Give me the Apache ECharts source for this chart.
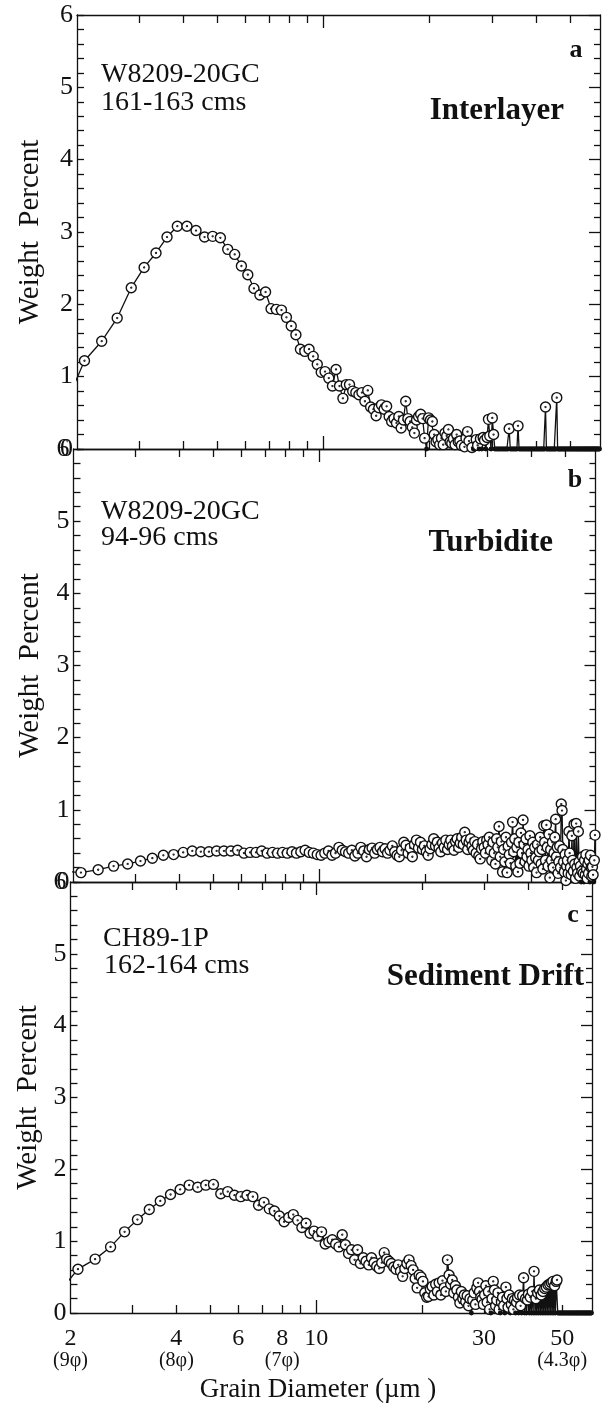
<!DOCTYPE html>
<html>
<head>
<meta charset="utf-8">
<script src="https://cdn.jsdelivr.net/npm/echarts@6/dist/echarts.min.js"></script>
<style>
  html, body { margin: 0; padding: 0; background: #fff; }
  #chart { width: 602px; height: 1403px; }
</style>
</head>
<body>
<div id="chart"></div>
<script>
// Size channels of the analyser: 0.25 µm wide, first channel centred at 1.85 µm
const channelStart = 1.85;
const channelStep = 0.25;

// Weight percent per channel
const interlayer = [
  0.60, 1.22, 1.49, 1.81, 2.23, 2.51, 2.71, 2.93, 3.08, 3.08,
  3.02, 2.93, 2.94, 2.92, 2.76, 2.69, 2.53, 2.41, 2.22, 2.13,
  2.17, 1.94, 1.93, 1.92, 1.82, 1.70, 1.58, 1.38, 1.35, 1.38,
  1.28, 1.17, 1.06, 1.07, 0.98, 0.87, 1.10, 0.87, 0.70, 0.89,
  0.89, 0.80, 0.78, 0.75, 0.78, 0.66, 0.81, 0.58, 0.55, 0.46,
  0.57, 0.61, 0.55, 0.59, 0.45, 0.38, 0.42, 0.36, 0.45, 0.29,
  0.40, 0.66, 0.42, 0.38, 0.30, 0.22, 0.40, 0.45, 0.48, 0.42,
  0.15, 0.00, 0.43, 0.40, 0.38, 0.20, 0.10, 0.13, 0.06, 0.15,
  0.06, 0.22, 0.18, 0.27, 0.10, 0.08, 0.14, 0.06, 0.20, 0.10,
  0.11, 0.05, 0.00, 0.03, 0.15, 0.24, 0.11, 0.00, 0.02, 0.00,
  0.00, 0.13, 0.05, 0.00, 0.14, 0.00, 0.16, 0.12, 0.00, 0.16,
  0.41, 0.18, 0.00, 0.43, 0.20, 0.00, 0.00, 0.00, 0.00, 0.00,
  0.00, 0.00, 0.00, 0.00, 0.00, 0.00, 0.00, 0.28, 0.00, 0.00,
  0.00, 0.00, 0.00, 0.00, 0.00, 0.32, 0.00, 0.00, 0.00, 0.00,
  0.00, 0.00, 0.00, 0.00, 0.00, 0.00, 0.00, 0.00, 0.00, 0.00,
  0.00, 0.00, 0.00, 0.00, 0.00, 0.00, 0.00, 0.00, 0.00, 0.00,
  0.00, 0.00, 0.00, 0.58, 0.00, 0.00, 0.00, 0.00, 0.00, 0.00,
  0.00, 0.00, 0.00, 0.00, 0.00, 0.00, 0.71, 0.00, 0.00, 0.00,
  0.00, 0.00, 0.00, 0.00, 0.00, 0.00, 0.00, 0.00, 0.00, 0.00,
  0.00, 0.00, 0.00, 0.00, 0.00, 0.00, 0.00, 0.00, 0.00, 0.00,
  0.00, 0.00, 0.00, 0.00, 0.00, 0.00, 0.00, 0.00, 0.00, 0.00,
  0.00, 0.00, 0.00, 0.00, 0.00, 0.00, 0.00, 0.00, 0.00, 0.00,
  0.00, 0.00, 0.00, 0.00, 0.00, 0.00, 0.00, 0.00, 0.00, 0.00,
  0.00, 0.00, 0.00, 0.00, 0.00, 0.00
];

const turbidite = [
  0.15, 0.13, 0.17, 0.22, 0.25, 0.29, 0.33, 0.37, 0.38, 0.41,
  0.43, 0.42, 0.42, 0.43, 0.43, 0.43, 0.44, 0.40, 0.41, 0.41,
  0.43, 0.40, 0.41, 0.40, 0.41, 0.40, 0.42, 0.40, 0.42, 0.44,
  0.41, 0.40, 0.38, 0.37, 0.40, 0.43, 0.37, 0.40, 0.48, 0.44,
  0.42, 0.40, 0.44, 0.36, 0.40, 0.48, 0.43, 0.35, 0.45, 0.47,
  0.40, 0.45, 0.48, 0.42, 0.46, 0.40, 0.44, 0.50, 0.42, 0.37,
  0.35, 0.44, 0.55, 0.51, 0.40, 0.47, 0.35, 0.52, 0.58, 0.47,
  0.55, 0.45, 0.50, 0.42, 0.37, 0.46, 0.52, 0.60, 0.50, 0.55,
  0.47, 0.42, 0.54, 0.48, 0.58, 0.45, 0.52, 0.58, 0.50, 0.44,
  0.56, 0.60, 0.48, 0.54, 0.62, 0.52, 0.69, 0.58, 0.45, 0.55,
  0.60, 0.50, 0.44, 0.56, 0.40, 0.52, 0.36, 0.32, 0.46, 0.56,
  0.48, 0.40, 0.58, 0.52, 0.62, 0.44, 0.30, 0.55, 0.40, 0.25,
  0.60, 0.48, 0.77, 0.35, 0.56, 0.14, 0.45, 0.28, 0.62, 0.13,
  0.50, 0.38, 0.26, 0.55, 0.83, 0.42, 0.60, 0.22, 0.48, 0.14,
  0.55, 0.26, 0.68, 0.40, 0.86, 0.52, 0.28, 0.60, 0.35, 0.45,
  0.22, 0.64, 0.40, 0.30, 0.55, 0.20, 0.48, 0.34, 0.13, 0.52,
  0.30, 0.42, 0.62, 0.25, 0.45, 0.18, 0.78, 0.55, 0.30, 0.79,
  0.48, 0.22, 0.66, 0.06, 0.45, 0.30, 0.55, 0.20, 0.40, 0.62,
  0.87, 0.35, 0.48, 0.12, 0.28, 0.50, 0.20, 1.08, 0.99, 0.45,
  0.28, 0.14, 0.38, 0.02, 0.22, 0.30, 0.12, 0.70, 0.40, 0.20,
  0.10, 0.64, 0.30, 0.15, 0.80, 0.25, 0.05, 0.81, 0.20, 0.12,
  0.70, 0.28, 0.08, 0.22, 0.00, 0.15, 0.35, 0.12, 0.00, 0.30,
  0.10, 0.38, 0.18, 0.05, 0.25, 0.12, 0.30, 0.00, 0.37, 0.20,
  0.08, 0.21, 0.10, 0.00, 0.30, 0.65
];

const sedimentDrift = [
  0.28, 0.61, 0.75, 0.92, 1.13, 1.30, 1.44, 1.56, 1.65, 1.72,
  1.78, 1.75, 1.78, 1.79, 1.66, 1.69, 1.64, 1.62, 1.64, 1.62,
  1.50, 1.54, 1.45, 1.42, 1.35, 1.27, 1.33, 1.37, 1.29, 1.19,
  1.25, 1.11, 1.14, 1.07, 1.13, 0.96, 0.99, 1.02, 0.96, 0.92,
  1.09, 0.95, 0.83, 0.88, 0.74, 0.88, 0.69, 0.77, 0.72, 0.67,
  0.77, 0.70, 0.65, 0.62, 0.70, 0.84, 0.75, 0.72, 0.69, 0.64,
  0.61, 0.67, 0.58, 0.51, 0.62, 0.69, 0.74, 0.66, 0.60, 0.48,
  0.35, 0.53, 0.50, 0.44, 0.28, 0.22, 0.23, 0.33, 0.37, 0.25,
  0.40, 0.30, 0.42, 0.25, 0.45, 0.35, 0.30, 0.74, 0.53, 0.40,
  0.46, 0.28, 0.38, 0.32, 0.22, 0.14, 0.30, 0.20, 0.25, 0.16,
  0.24, 0.10, 0.20, 0.00, 0.18, 0.28, 0.12, 0.35, 0.42, 0.30,
  0.22, 0.19, 0.12, 0.25, 0.38, 0.15, 0.30, 0.05, 0.00, 0.20,
  0.44, 0.32, 0.10, 0.18, 0.28, 0.05, 0.00, 0.15, 0.22, 0.10,
  0.00, 0.36, 0.20, 0.08, 0.25, 0.00, 0.12, 0.20, 0.05, 0.18,
  0.00, 0.15, 0.22, 0.00, 0.25, 0.10, 0.00, 0.24, 0.49, 0.00,
  0.20, 0.00, 0.18, 0.26, 0.00, 0.22, 0.00, 0.30, 0.00, 0.58,
  0.00, 0.20, 0.00, 0.28, 0.00, 0.32, 0.00, 0.25, 0.00, 0.30,
  0.00, 0.34, 0.00, 0.36, 0.00, 0.39, 0.00, 0.40, 0.00, 0.42,
  0.00, 0.44, 0.00, 0.38, 0.00, 0.44, 0.46, 0.00, 0.00, 0.00,
  0.00, 0.00, 0.00, 0.00, 0.00, 0.00, 0.00, 0.00, 0.00, 0.00,
  0.00, 0.00, 0.00, 0.00, 0.00, 0.00, 0.00, 0.00, 0.00, 0.00,
  0.00, 0.00, 0.00, 0.00, 0.00, 0.00, 0.00, 0.00, 0.00, 0.00,
  0.00, 0.00, 0.00, 0.00, 0.00, 0.00, 0.00, 0.00, 0.00, 0.00,
  0.00, 0.00, 0.00, 0.00, 0.00, 0.00
];

// Axis ticks and labels
const xMinorTicks = [3, 4, 5, 6, 7, 8, 9, 20, 30, 40, 50];
const xMajorTicks = [10];
const xTickLabels = [2, 4, 6, 8, 10, 30, 50];
const phiLabels = ['(9φ)', '(8φ)', '', '(7φ)', '', '', '(4.3φ)'];
const xRange = [2, 60.8];
const yRange = [0, 6];

// Panel texts
const panelLetters = ['a', 'b', 'c'];
const coreNames = ['W8209-20GC', 'W8209-20GC', 'CH89-1P'];
const depthRanges = ['161-163 cms', '94-96 cms', '162-164 cms'];
const panelTitles = ['Interlayer', 'Turbidite', 'Sediment Drift'];
const yTitle = 'Weight  Percent';
const xTitle = 'Grain Diameter (µm )';
const panelValues = [interlayer, turbidite, sedimentDrift];

const FONT = '"Liberation Serif", "DejaVu Serif", serif';
const INK = '#111';

// Panel frames (the scan is slightly skewed, so each frame sits a little further left)
const frames = [
  { left: 77, top: 15, width: 523, height: 434, nameGap: 32 },
  { left: 73.5, top: 449, width: 522, height: 433, nameGap: 29 },
  { left: 70.5, top: 882, width: 521.5, height: 431, nameGap: 26 }
];

// Open circle with a centre dot
const dotCircle = 'path://M0,10A10,10,0,1,1,20,10A10,10,0,1,1,0,10Z M9.1,10A0.9,0.9,0,1,1,10.9,10A0.9,0.9,0,1,1,9.1,10Z';

function channelData(values) {
  return values.map((v, k) => {
    const d = +(channelStart + channelStep * k).toFixed(2);
    if (v === 0) {
      return { value: [d, v], symbol: 'circle', symbolSize: 3.5, itemStyle: { color: INK, borderColor: INK } };
    }
    return [d, v];
  });
}

const axisLineStyle = { color: INK, width: 1.3 };

const grid = frames.map(f => ({ left: f.left, top: f.top, width: f.width, height: f.height, containLabel: false }));
const xAxis = [];
const yAxis = [];
const series = [];

frames.forEach((f, i) => {
  const isBottom = i === 2;
  const base = {
    type: 'log', logBase: 10, gridIndex: i, min: xRange[0], max: xRange[1],
    splitLine: { show: false }, minorSplitLine: { show: false }
  };
  ['bottom', 'top'].forEach(pos => {
    xAxis.push(Object.assign({}, base, {
      position: pos,
      axisLine: { show: true, onZero: false, lineStyle: axisLineStyle },
      axisTick: { show: true, inside: true, length: 8, customValues: xMinorTicks, lineStyle: axisLineStyle },
      axisLabel: (isBottom && pos === 'bottom') ? {
        show: true,
        customValues: xTickLabels,
        margin: 15,
        color: INK,
        fontFamily: FONT,
        formatter: function (v) {
          const idx = xTickLabels.findIndex(t => Math.abs(t - v) < 0.01);
          const phi = idx >= 0 ? phiLabels[idx] : '';
          const num = idx >= 0 ? xTickLabels[idx] : Math.round(v);
          return phi ? '{n|' + num + '}\n{p|' + phi + '}' : '{n|' + num + '}';
        },
        rich: {
          n: { fontSize: 24, lineHeight: 22, fontFamily: FONT, color: INK },
          p: { fontSize: 20, lineHeight: 22, fontFamily: FONT, color: INK }
        }
      } : { show: false }
    }));
    xAxis.push(Object.assign({}, base, {
      position: pos,
      axisLine: { show: false, onZero: false },
      axisTick: { show: true, inside: true, length: 13, customValues: xMajorTicks, lineStyle: axisLineStyle },
      axisLabel: { show: false }
    }));
  });

  yAxis.push({
    type: 'value', gridIndex: i, min: yRange[0], max: yRange[1], interval: 1, position: 'left',
    name: yTitle, nameLocation: 'middle', nameRotate: 90, nameGap: f.nameGap,
    nameTextStyle: { fontFamily: FONT, fontSize: 29, color: INK },
    axisLine: { show: true, onZero: false, lineStyle: axisLineStyle },
    axisTick: { show: true, inside: true, length: 7, lineStyle: axisLineStyle },
    minorTick: { show: true, splitNumber: 5, length: 7, lineStyle: axisLineStyle },
    axisLabel: { show: true, margin: 4, fontFamily: FONT, fontSize: 26, color: INK },
    splitLine: { show: false }
  });
  yAxis.push({
    type: 'value', gridIndex: i, min: yRange[0], max: yRange[1], interval: 1, position: 'right',
    axisLine: { show: true, onZero: false, lineStyle: axisLineStyle },
    axisTick: { show: true, inside: true, length: 11, lineStyle: axisLineStyle },
    minorTick: { show: true, splitNumber: 5, length: 6, lineStyle: axisLineStyle },
    axisLabel: { show: false },
    splitLine: { show: false }
  });

  series.push({
    type: 'line',
    xAxisIndex: i * 4,
    yAxisIndex: i * 2,
    data: channelData(panelValues[i]),
    symbol: dotCircle,
    symbolSize: 10,
    showAllSymbol: true,
    clip: true,
    lineStyle: { color: INK, width: 1.3 },
    itemStyle: { color: '#fff', borderColor: INK, borderWidth: 1.4 },
    emphasis: { disabled: true },
    z: 3
  });
});

// Panel annotations
const textPlaces = [
  { letter: [576, 50], core: [101, 75], depth: [101, 103], title: [564, 111] },
  { letter: [575, 480], core: [101, 512], depth: [101, 538], title: [553, 543] },
  { letter: [573, 915], core: [103, 939], depth: [104, 966], title: [584, 977] }
];

function label(text, x, y, font, align) {
  return {
    type: 'text', x: x, y: y, silent: true, z: 10,
    style: { text: text, font: font, fill: INK, align: align, verticalAlign: 'middle', textAlign: align, textVerticalAlign: 'middle' }
  };
}

const graphic = [];
textPlaces.forEach((p, i) => {
  graphic.push(label(panelLetters[i], p.letter[0], p.letter[1], 'bold 26px ' + FONT, 'center'));
  graphic.push(label(coreNames[i], p.core[0], p.core[1], '28px ' + FONT, 'left'));
  graphic.push(label(depthRanges[i], p.depth[0], p.depth[1], '28px ' + FONT, 'left'));
  graphic.push(label(panelTitles[i], p.title[0], p.title[1], 'bold 31px ' + FONT, 'right'));
});
graphic.push(label(xTitle, 318, 1390, '27px ' + FONT, 'center'));

const chart = echarts.init(document.getElementById('chart'), null, { renderer: 'canvas' });
chart.setOption({
  animation: false,
  backgroundColor: '#fff',
  grid: grid,
  xAxis: xAxis,
  yAxis: yAxis,
  series: series,
  graphic: graphic
});
</script>
</body>
</html>
